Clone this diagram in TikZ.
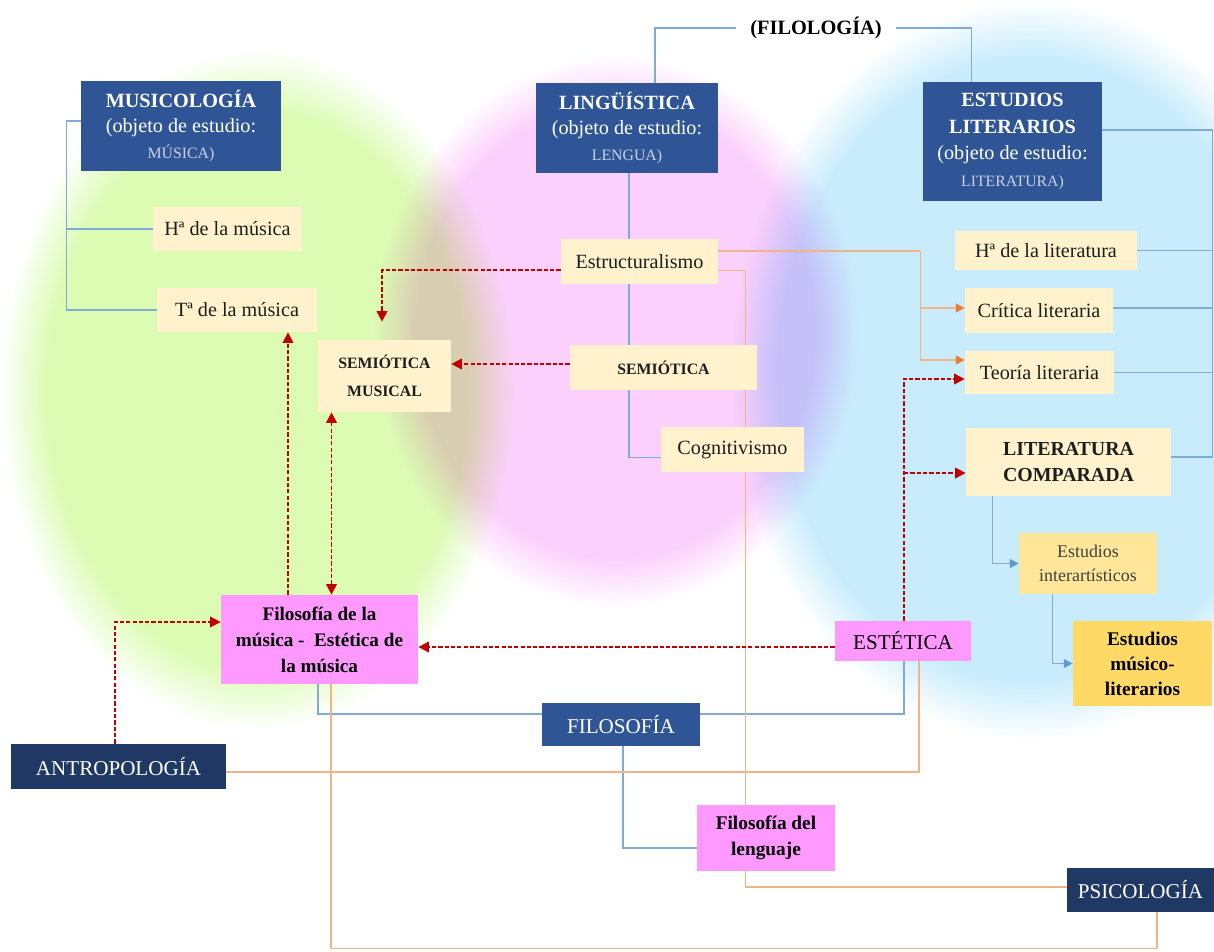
\documentclass[tikz,border=0pt]{standalone}
\usepackage{fontspec}
\setmainfont{Liberation Serif}
\usetikzlibrary{arrows.meta,calc}

\definecolor{blobgreen}{RGB}{220,252,180}
\definecolor{blobpink}{RGB}{252,208,252}
\definecolor{blobblue}{RGB}{200,236,252}
\definecolor{midblue}{RGB}{47,85,151}
\definecolor{navy}{RGB}{32,56,100}
\definecolor{cream}{RGB}{255,242,204}
\definecolor{lightgold}{RGB}{255,230,153}
\definecolor{gold}{RGB}{255,217,102}
\definecolor{pinkfill}{RGB}{255,153,255}
\definecolor{ink}{RGB}{30,30,30}
\definecolor{greyink}{RGB}{64,64,64}
\definecolor{capgray}{RGB}{200,210,228}
\definecolor{lineblue}{RGB}{130,170,215}
\definecolor{lineorange}{RGB}{242,180,135}
\definecolor{arroworange}{RGB}{237,125,49}
\definecolor{arrowblue}{RGB}{91,155,213}
\definecolor{darkred}{RGB}{192,0,0}

% soft coloured areas: flat core fading to white at the rim
% (the path's bounding box maps onto the central 50bp square of the shading)
\pgfdeclareradialshading{greenblob}{\pgfpoint{0bp}{0bp}}{color(0bp)=(blobgreen); color(20.5bp)=(blobgreen); color(25bp)=(white); color(50bp)=(white)}
\pgfdeclareradialshading{pinkblob}{\pgfpoint{0bp}{0bp}}{color(0bp)=(blobpink); color(20.5bp)=(blobpink); color(25bp)=(white); color(50bp)=(white)}
\pgfdeclareradialshading{blueblob}{\pgfpoint{0bp}{0bp}}{color(0bp)=(blobblue); color(21bp)=(blobblue); color(25bp)=(white); color(50bp)=(white)}

\pgfdeclarelayer{bg}
\pgfdeclarelayer{links}
\pgfsetlayers{bg,links,main}

\tikzset{
  box/.style={inner sep=0pt, align=center, font=\fontsize{11.5}{14.5}\selectfont},
  sz/.style 2 args={minimum width=#1*0.02cm, minimum height=#2*0.02cm},
  bluebox/.style={box, fill=midblue, text=white},
  navybox/.style={box, fill=navy, text=white, font=\fontsize{12}{14.5}\selectfont},
  creambox/.style={box, fill=cream, text=ink},
  pinkbox/.style={box, fill=pinkfill, text=black},
  bline/.style={draw=lineblue, line width=0.6pt},
  oline/.style={draw=lineorange, line width=0.6pt},
  btip/.style={-{Triangle[length=5pt,width=5pt,color=arrowblue]}},
  otip/.style={-{Triangle[length=5pt,width=5pt,color=arroworange]}},
  rdash/.style={draw=darkred, line width=1.1pt, dash pattern=on 2.4pt off 1.2pt},
  rtip/.style={-{Triangle[length=6pt,width=6pt]}},
}

\begin{document}
\begin{tikzpicture}[x=0.02cm, y=-0.02cm]
\useasboundingbox (0,0) rectangle (1214,951);

% ---------- coloured fields ----------
\begin{pgfonlayer}{bg}
\fill[white] (0,0) rectangle (1214,951);
\begin{scope}[blend group=multiply]
  \shade[shading=greenblob] (0,50) rectangle (515,730);
  \shade[shading=pinkblob] (372,55) rectangle (858,608);
  \shade[shading=blueblob] (730,0) rectangle (1330,740);
\end{scope}
\end{pgfonlayer}

% ---------- nodes ----------
\node[box, font=\fontsize{11.6}{14.5}\selectfont\bfseries, inner xsep=14*0.02cm] (filol) at (816,28) {(FILOLOGÍA)};

\node[bluebox, sz={200}{90}] (mus) at (181,126)
  {{\bfseries MUSICOLOGÍA}\\(objeto de estudio:\\{\color{capgray}\fontsize{9}{14.5}\selectfont MÚSICA)}};
\node[bluebox, sz={182}{90}] (ling) at (627,128)
  {{\bfseries LINGÜÍSTICA}\\(objeto de estudio:\\{\color{capgray}\fontsize{9}{14.5}\selectfont LENGUA)}};
\node[bluebox, sz={179}{119}, font=\fontsize{11.5}{15.3}\selectfont] (estlit) at (1012.5,141.5)
  {{\bfseries ESTUDIOS}\\{\bfseries LITERARIOS}\\(objeto de estudio:\\{\color{capgray}\fontsize{9}{15.3}\selectfont LITERATURA)}};

\node[creambox, sz={149}{44}] (hmus) at (227.5,229) {Hª de la música};
\node[creambox, sz={160}{44}] (tmus) at (237,310) {Tª de la música};

\node[creambox, sz={157}{45}] (estr) at (639.5,261.5) {Estructuralismo};
\node[creambox, sz={133}{72}, font=\fontsize{9}{16}\selectfont\bfseries] (semus) at (384.5,376) {SEMIÓTICA\\MUSICAL};
\node[creambox, sz={187}{45}, font=\fontsize{9}{16}\selectfont\bfseries] (semi) at (663.5,367.5) {SEMIÓTICA};
\node[creambox, sz={143}{45}] (cogn) at (732.5,449.5) {Cognitivismo};

\node[creambox, sz={182}{39}] (hlit) at (1046,250.5) {Hª de la literatura};
\node[creambox, sz={148}{45}] (crit) at (1039,310.5) {Crítica literaria};
\node[creambox, sz={149}{43}] (teor) at (1039.5,372.5) {Teoría literaria};
\node[creambox, sz={205}{68}, font=\fontsize{11.3}{15}\selectfont\bfseries] (litcomp) at (1068.5,462) {LITERATURA\\COMPARADA};
\node[box, fill=lightgold, text=greyink, sz={138}{61}, font=\fontsize{10.2}{14}\selectfont] (inter) at (1088,563.5) {Estudios\\interartísticos};
\node[box, fill=gold, text=black, sz={139}{85}, font=\fontsize{11}{14.2}\selectfont\bfseries] (musilit) at (1142.5,663.5) {Estudios\\músico-\\literarios};

\node[pinkbox, sz={197}{89}, font=\fontsize{10.9}{14.8}\selectfont\bfseries] (filmus) at (319.5,639.5) {Filosofía de la\\música -\ \ Estética de\\la música};
\node[pinkbox, sz={136}{40}, font=\fontsize{12}{14.5}\selectfont] (estet) at (903,641) {ESTÉTICA};
\node[bluebox, sz={158}{43}, font=\fontsize{12}{14.5}\selectfont] (filo) at (621,724.5) {FILOSOFÍA};
\node[navybox, sz={215}{45}] (antro) at (118.5,766.5) {ANTROPOLOGÍA};
\node[pinkbox, sz={138}{66}, font=\fontsize{11}{14.8}\selectfont\bfseries] (fillen) at (766,838) {Filosofía del\\lenguaje};
\node[navybox, sz={147}{44}] (psico) at (1140.5,890) {PSICOLOGÍA};

% ---------- connectors ----------
\begin{pgfonlayer}{links}
% filología tree
\draw[bline] (filol.west) -| ([xshift=28*0.02cm]ling.north);
\draw[bline] (filol.east) -| ([xshift=-41*0.02cm]estlit.north);

% musicología tree
\coordinate (mtr) at ($(mus.west)+(-14,-5)$);
\draw[bline] ($(mus.west)+(0,-5)$) -- (mtr) |- (tmus.west);
\draw[bline] (mtr) |- (hmus.west);

% lingüística tree
\draw[bline] ([xshift=2*0.02cm]ling.south) |- ($(cogn.west)+(0,8)$);

% estudios literarios tree
\coordinate (rtr) at ($(estlit.east)+(110,-11.5)$);
\draw[bline] ($(estlit.east)+(0,-11.5)$) -- (rtr) |- ($(litcomp.east)+(0,-5)$);
\draw[bline] (hlit.east) -- (hlit.east -| rtr);
\coordinate (ce) at ($(crit.east)+(0,-2.5)$);
\draw[bline] (ce) -- (ce -| rtr);
\draw[bline] (teor.east) -- (teor.east -| rtr);
\draw[bline, btip] ($(litcomp.south west)+(27,0)$) |- (inter.west);
\draw[bline, btip] ($(inter.south west)+(34,0)$) |- (musilit.west);

% filosofía tree
\coordinate (fe) at ($(filo.east)+(0,-10.5)$);
\coordinate (fw) at ($(filo.west)+(0,-10.5)$);
\draw[bline] ([xshift=1*0.02cm]estet.south) |- (fe);
\draw[bline] (fw) -| ([xshift=-1.5*0.02cm]filmus.south);
\draw[bline] ([xshift=2*0.02cm]filo.south) |- ($(fillen.west)+(0,10)$);

% estructuralismo links
\coordinate (ob) at ($(estr.east)+(202,-10.5)$);
\draw[oline] ($(estr.east)+(0,-10.5)$) -- (ob);
\draw[oline, otip] (ob) |- ($(teor.west)+(0,-12.5)$);
\draw[oline, otip] (ob) |- ($(crit.west)+(0,-2.5)$);
\draw[oline] ($(estr.east)+(0,9)$) -| ($(psico.west)+(-321,-3)$) -- ($(psico.west)+(0,-3)$);

% antropología and psicología links
\draw[oline] ($(antro.east)+(0,5.5)$) -| ($(estet.south)+(16,0)$);
\draw[oline] ($(filmus.south)+(11.5,0)$) -- ++(0,264) -| ($(psico.south)+(16.5,0)$);

% dashed relations
\coordinate (e1) at ($(estet.west)+(0,6)$);
\draw[rdash, rtip] (e1) -- (e1 -| filmus.east);
\coordinate (e2) at ($(teor.west)+(0,6.5)$);
\draw[rdash, rtip] ([xshift=1*0.02cm]estet.north) |- (e2);
\coordinate (e3) at ($(litcomp.west)+(0,11)$);
\draw[rdash, rtip] ([xshift=1*0.02cm]estet.north |- e3) -- (e3);
\draw[rdash, rtip] ($(estr.west)+(0,8.5)$) -| ($(semus.north)+(-2.5,-18)$);
\coordinate (s1) at ($(semi.west)+(0,-3.5)$);
\draw[rdash, rtip] (s1) -- (s1 -| semus.east);
\coordinate (f1) at ($(filmus.north)+(-31.5,0)$);
\draw[rdash, rtip] (f1) -- (f1 |- tmus.south);
\coordinate (f2) at ($(filmus.north)+(12,0)$);
\draw[rdash, {Triangle[length=6pt,width=6pt]}-{Triangle[length=6pt,width=6pt]}] (f2) -- (f2 |- semus.south);
\coordinate (f3) at ($(filmus.west)+(0,-17.5)$);
\draw[rdash, rtip] ($(antro.north)+(-3.5,0)$) |- (f3);
\end{pgfonlayer}
\end{tikzpicture}
\end{document}
